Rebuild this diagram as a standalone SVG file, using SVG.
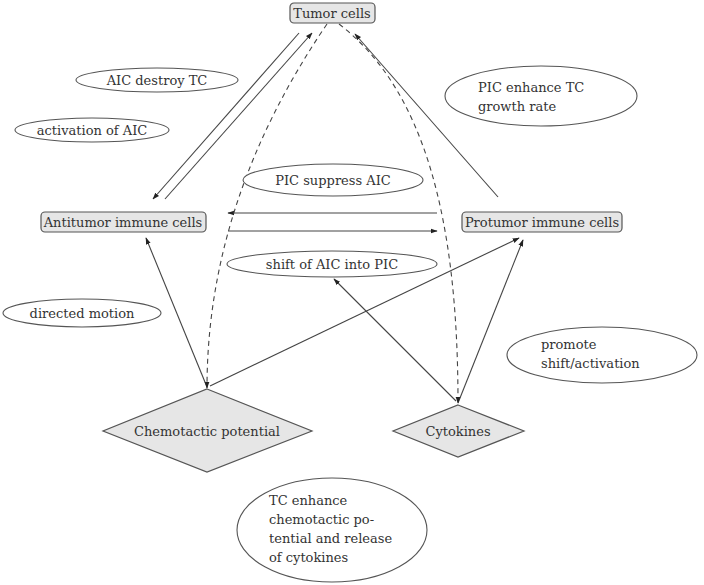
<svg xmlns="http://www.w3.org/2000/svg" width="704" height="585" viewBox="0 0 704 585">
<style>
text{font-family:'DejaVu Serif',serif;font-size:13px;fill:#333}
.c{text-anchor:middle}
.node{fill:#e6e6e6;stroke:#555;stroke-width:1.2}
.lab{fill:#fff;stroke:#555;stroke-width:1.1}
.e{fill:none;stroke:#444;stroke-width:1.1;marker-end:url(#ah)}
.d{fill:none;stroke:#444;stroke-width:1.1;stroke-dasharray:5 4;marker-end:url(#ah)}
</style>
<defs>
<marker id="ah" viewBox="0 0 10 10" refX="9" refY="5" markerWidth="7" markerHeight="7" markerUnits="userSpaceOnUse" orient="auto">
<path d="M0,1.5 L10,5 L0,8.5 Z" fill="#222"/>
</marker>
</defs>
<rect width="704" height="585" fill="#fff"/>
<g id="connectors">
<line class="e" x1="299" y1="33" x2="153" y2="199"/>
<line class="e" x1="165" y1="199" x2="312" y2="33"/>
<line class="e" x1="498" y1="197" x2="355" y2="34"/>
<line class="e" x1="437" y1="213" x2="228" y2="213"/>
<line class="e" x1="228" y1="231" x2="437" y2="231"/>
<line class="e" x1="207" y1="387" x2="146" y2="238"/>
<line class="e" x1="210" y1="386" x2="519" y2="238"/>
<line class="e" x1="458" y1="403" x2="523" y2="240"/>
<line class="e" x1="456" y1="401" x2="334" y2="279"/>
<path class="d" d="M327,24 Q207,200 207,388"/>
<path class="d" d="M339,24 C425,90 458,220 458,403"/>
</g>
<g id="tumor"><rect class="node" x="290" y="3" width="85" height="20" rx="4"/><text class="c" x="332" y="18">Tumor cells</text></g>
<g id="antitumor"><rect class="node" x="41" y="212" width="165" height="20" rx="4"/><text class="c" x="123" y="227">Antitumor immune cells</text></g>
<g id="protumor"><rect class="node" x="462" y="212" width="160" height="20" rx="4"/><text class="c" x="542" y="227">Protumor immune cells</text></g>
<g id="chemotactic"><polygon class="node" points="207,389 312,431 207,472 103,431"/><text class="c" x="207" y="436">Chemotactic potential</text></g>
<g id="cytokines"><polygon class="node" points="458,405 524,431 458,457 393,431"/><text class="c" x="458" y="436">Cytokines</text></g>
<g id="l-destroy"><ellipse class="lab" cx="157" cy="80" rx="81" ry="12"/><text class="c" x="157" y="85">AIC destroy TC</text></g>
<g id="l-activation"><ellipse class="lab" cx="92" cy="130" rx="77" ry="12"/><text class="c" x="92" y="135">activation of AIC</text></g>
<g id="l-enhance"><ellipse class="lab" cx="541" cy="96" rx="96" ry="30"/><text x="478" y="92">PIC enhance TC</text><text x="478" y="111">growth rate</text></g>
<g id="l-suppress"><ellipse class="lab" cx="333" cy="180" rx="90" ry="16"/><text class="c" x="333" y="185">PIC suppress AIC</text></g>
<g id="l-shift"><ellipse class="lab" cx="332" cy="264" rx="105" ry="13"/><text class="c" x="332" y="269">shift of AIC into PIC</text></g>
<g id="l-directed"><ellipse class="lab" cx="82" cy="313" rx="79" ry="14"/><text class="c" x="82" y="318">directed motion</text></g>
<g id="l-promote"><ellipse class="lab" cx="602" cy="355" rx="95" ry="28"/><text x="541" y="349">promote</text><text x="541" y="368">shift/activation</text></g>
<g id="l-tc"><ellipse class="lab" cx="332" cy="530" rx="95" ry="52"/><text x="269" y="505">TC enhance</text><text x="269" y="524">chemotactic po-</text><text x="269" y="543">tential and release</text><text x="269" y="562">of cytokines</text></g>
</svg>
